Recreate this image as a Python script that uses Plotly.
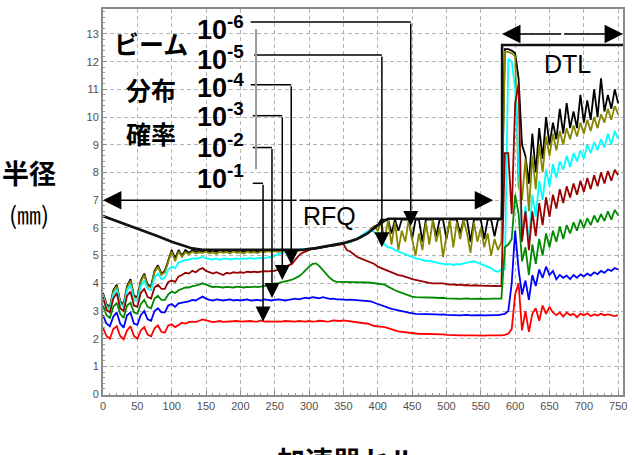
import plotly.graph_objects as go

# ---------------- data ----------------
cells = list(range(0, 751, 5))

p1e1 = [2.40, 2.10, 2.00, 2.35, 2.45, 2.10, 1.98, 2.30, 2.45, 2.10,
        2.00, 2.30, 2.42, 2.15, 2.08, 2.38, 2.48, 2.25, 2.22, 2.48,
        2.52, 2.42, 2.50, 2.58, 2.55, 2.60, 2.62, 2.60, 2.65, 2.70,
        2.66, 2.62, 2.60, 2.62, 2.64, 2.61, 2.62, 2.63, 2.62, 2.64,
        2.62, 2.63, 2.62, 2.64, 2.62, 2.62, 2.66, 2.62, 2.63, 2.62,
        2.62, 2.63, 2.62, 2.64, 2.63, 2.62, 2.62, 2.64, 2.63, 2.62,
        2.64, 2.62, 2.63, 2.65, 2.64, 2.62, 2.63, 2.66, 2.65, 2.64,
        2.66, 2.64, 2.62, 2.60, 2.60, 2.58, 2.56, 2.55, 2.50, 2.46,
        2.45, 2.44, 2.42, 2.38, 2.33, 2.30, 2.27, 2.25, 2.23, 2.22,
        2.20, 2.19, 2.18, 2.18, 2.17, 2.18, 2.17, 2.16, 2.17, 2.16,
        2.14, 2.13, 2.12, 2.13, 2.12, 2.12, 2.11, 2.12, 2.12, 2.11,
        2.12, 2.11, 2.12, 2.12, 2.11, 2.12, 2.12, 2.14, 2.18, 2.35,
        3.60, 4.00, 2.30, 3.00, 2.25, 2.90, 3.10, 2.65, 3.20, 2.90,
        3.15, 2.95, 2.85, 2.95, 2.80, 2.95, 2.85, 2.90, 2.78, 2.90,
        2.85, 2.92, 2.82, 2.88, 2.84, 2.90, 2.85, 2.88, 2.84, 2.82,
        2.85]

p1e2 = [2.85, 2.55, 2.45, 2.80, 2.95, 2.55, 2.40, 2.85, 2.95, 2.55,
        2.50, 2.85, 3.00, 2.70, 2.65, 3.00, 3.10, 2.95, 2.95, 3.20,
        3.25, 3.15, 3.28, 3.30, 3.32, 3.35, 3.40, 3.38, 3.45, 3.52,
        3.45, 3.40, 3.38, 3.42, 3.40, 3.38, 3.40, 3.42, 3.38, 3.40,
        3.38, 3.40, 3.42, 3.38, 3.40, 3.40, 3.38, 3.42, 3.40, 3.38,
        3.40, 3.42, 3.40, 3.38, 3.40, 3.42, 3.45, 3.42, 3.44, 3.48,
        3.46, 3.50, 3.48, 3.46, 3.50, 3.47, 3.44, 3.45, 3.42, 3.42,
        3.40, 3.40, 3.41, 3.40, 3.40, 3.38, 3.37, 3.36, 3.35, 3.30,
        3.25, 3.20, 3.15, 3.12, 3.08, 3.05, 3.02, 3.00, 2.98, 2.95,
        2.92, 2.90, 2.90, 2.89, 2.90, 2.88, 2.90, 2.88, 2.87, 2.88,
        2.86, 2.85, 2.86, 2.85, 2.84, 2.85, 2.86, 2.84, 2.85, 2.84,
        2.85, 2.84, 2.85, 2.86, 2.85, 2.85, 2.88, 2.90, 3.00, 4.00,
        5.90, 4.50, 3.60, 4.10, 3.40, 4.30, 3.90, 4.50, 4.20, 4.60,
        4.30, 4.45, 4.15, 4.30, 4.20, 4.28, 4.15, 4.30, 4.20, 4.32,
        4.25, 4.35, 4.28, 4.40, 4.33, 4.45, 4.38, 4.50, 4.45, 4.55,
        4.50]

p1e3 = [3.20, 2.85, 2.75, 3.15, 3.30, 2.90, 2.75, 3.20, 3.30, 2.95,
        2.90, 3.25, 3.40, 3.15, 3.10, 3.45, 3.55, 3.40, 3.40, 3.60,
        3.70, 3.65, 3.75, 3.80, 3.85, 3.85, 3.90, 3.92, 3.95, 4.00,
        3.95, 3.90, 3.86, 3.88, 3.86, 3.85, 3.87, 3.86, 3.85, 3.88,
        3.86, 3.85, 3.87, 3.86, 3.88, 3.86, 3.88, 3.90, 3.92, 3.95,
        4.00, 4.00, 4.04, 4.08, 4.10, 4.13, 4.18, 4.25, 4.35, 4.48,
        4.60, 4.70, 4.72, 4.62, 4.48, 4.33, 4.20, 4.10, 4.05, 4.05,
        4.05, 4.04, 4.05, 4.04, 4.05, 4.04, 4.03, 4.03, 4.02, 4.00,
        4.00, 3.98, 3.95, 3.88, 3.80, 3.75, 3.70, 3.65, 3.60, 3.55,
        3.52, 3.50, 3.50, 3.49, 3.50, 3.48, 3.49, 3.48, 3.47, 3.48,
        3.46, 3.45, 3.46, 3.45, 3.44, 3.45, 3.46, 3.44, 3.45, 3.44,
        3.45, 3.44, 3.45, 3.46, 3.45, 3.45, 3.45, 5.30, 5.40, 5.60,
        7.20, 6.50, 4.80, 5.30, 4.30, 5.40, 4.70, 5.60, 5.00, 5.80,
        5.30, 5.90, 5.50, 6.05, 5.60, 6.10, 5.80, 6.20, 5.90, 6.30,
        6.00, 6.35, 6.10, 6.45, 6.20, 6.50, 6.25, 6.60, 6.30, 6.65,
        6.45]

p1e4 = [3.50, 3.05, 2.95, 3.45, 3.65, 3.10, 3.00, 3.55, 3.70, 3.20,
        3.15, 3.65, 3.80, 3.50, 3.45, 3.85, 3.95, 3.80, 3.80, 4.05,
        4.10, 4.05, 4.25, 4.30, 4.38, 4.35, 4.45, 4.40, 4.50, 4.55,
        4.45, 4.40, 4.35, 4.40, 4.35, 4.30, 4.38, 4.35, 4.40, 4.38,
        4.40, 4.38, 4.42, 4.40, 4.42, 4.40, 4.42, 4.44, 4.43, 4.45,
        4.45, 4.50, 4.55, 4.60, 4.65, 4.70, 4.85, 5.00, 5.10, 5.15,
        5.20, 5.25, 5.25, 5.28, 5.30, 5.32, 5.35, 5.35, 5.38, 5.40,
        5.42, 5.20, 5.15, 5.05, 4.95, 4.90, 4.85, 4.80, 4.75, 4.70,
        4.60, 4.55, 4.50, 4.45, 4.40, 4.35, 4.30, 4.28, 4.25, 4.20,
        4.15, 4.12, 4.10, 4.08, 4.05, 4.02, 4.00, 4.00, 3.98, 4.00,
        3.97, 3.95, 3.96, 3.94, 3.95, 3.93, 3.94, 3.92, 3.93, 3.92,
        3.92, 3.91, 3.92, 3.90, 3.91, 3.90, 3.90, 8.70, 8.70, 6.50,
        10.50, 11.20, 5.50, 6.60, 5.20, 6.60, 5.70, 6.90, 6.10, 7.10,
        6.40, 7.20, 6.70, 7.40, 6.90, 7.50, 7.10, 7.60, 7.20, 7.70,
        7.30, 7.80, 7.40, 7.90, 7.50, 8.00, 7.60, 8.05, 7.70, 8.10,
        7.90]

p1e5 = [3.55, 3.15, 3.05, 3.60, 3.80, 3.25, 3.15, 3.75, 3.95, 3.40,
        3.35, 3.90, 4.10, 3.80, 3.75, 4.20, 4.35, 4.15, 4.20, 4.50,
        4.60, 4.55, 4.75, 4.80, 4.85, 4.85, 4.90, 4.88, 4.92, 4.95,
        4.90, 4.88, 4.86, 4.90, 4.85, 4.88, 4.90, 4.86, 4.88, 4.90,
        4.87, 4.90, 4.88, 4.92, 4.88, 4.90, 4.92, 4.90, 4.93, 4.95,
        5.00, 5.05, 5.10, 5.12, 5.15, 5.18, 5.20, 5.22, 5.22, 5.23,
        5.25, 5.26, 5.28, 5.30, 5.32, 5.33, 5.35, 5.37, 5.39, 5.40,
        5.42, 5.45, 5.50, 5.55, 5.62, 5.70, 5.80, 5.88, 5.92, 5.85,
        5.70, 5.55, 5.40, 5.30, 5.28, 5.20, 5.15, 5.10, 5.05, 5.00,
        4.95, 4.90, 4.88, 4.85, 4.80, 4.82, 4.78, 4.75, 4.72, 4.70,
        4.68, 4.70, 4.65, 4.70, 4.68, 4.72, 4.75, 4.78, 4.80, 4.75,
        4.70, 4.65, 4.60, 4.55, 4.45, 4.42, 4.50, 4.50, 12.10, 12.00,
        11.00, 8.00, 5.60, 6.80, 5.50, 7.20, 6.40, 7.70, 7.00, 8.10,
        7.50, 8.30, 7.80, 8.40, 8.10, 8.60, 8.20, 8.70, 8.40, 8.80,
        8.50, 9.00, 8.70, 9.10, 8.80, 9.20, 8.90, 9.40, 9.00, 9.50,
        9.20]

p1e6 = [3.60, 3.20, 3.10, 3.70, 3.90, 3.30, 3.20, 3.85, 4.10, 3.50,
        3.45, 4.05, 4.30, 3.90, 3.85, 4.40, 4.60, 4.30, 4.40, 4.80,
        5.15, 4.80, 5.15, 4.95, 5.12, 5.05, 5.15, 5.08, 5.12, 5.10,
        5.14, 5.08, 5.12, 5.06, 5.14, 5.10, 5.13, 5.08, 5.15, 5.10,
        5.12, 5.08, 5.15, 5.10, 5.13, 5.09, 5.15, 5.12, 5.16, 5.14,
        5.16, 5.13, 5.17, 5.15, 5.18, 5.17, 5.19, 5.18, 5.20, 5.19,
        5.22, 5.24, 5.26, 5.28, 5.30, 5.32, 5.34, 5.36, 5.39, 5.41,
        5.42, 5.46, 5.49, 5.54, 5.59, 5.66, 5.74, 5.84, 5.94, 6.05,
        5.90, 6.20, 5.60, 6.28, 5.40, 6.20, 5.20, 5.90, 5.50, 6.28,
        5.60, 5.00, 5.80, 5.20, 6.20, 5.40, 6.28, 5.50, 6.00, 4.95,
        5.70, 6.28, 5.30, 6.20, 5.60, 6.28, 5.80, 5.10, 6.20, 5.50,
        6.00, 5.30, 5.80, 5.00, 5.60, 5.20, 5.50, 12.35, 12.35, 12.30,
        12.20, 7.50, 7.00, 8.50, 6.60, 8.60, 7.40, 9.00, 8.00, 9.30,
        8.60, 9.40, 8.80, 9.50, 9.00, 9.60, 9.20, 9.70, 9.30, 9.80,
        9.40, 9.90, 9.50, 10.00, 9.60, 10.10, 9.80, 10.30, 9.90, 10.40,
        10.10]

p_max = [3.65, 3.25, 3.15, 3.75, 3.95, 3.35, 3.25, 3.90, 4.15, 3.55,
         3.50, 4.10, 4.35, 3.95, 3.90, 4.45, 4.65, 4.35, 4.45, 4.85,
         5.20, 4.90, 5.20, 5.00, 5.20, 5.10, 5.20, 5.15, 5.18, 5.15,
         5.18, 5.15, 5.18, 5.14, 5.19, 5.16, 5.18, 5.15, 5.19, 5.16,
         5.18, 5.15, 5.19, 5.16, 5.18, 5.15, 5.19, 5.17, 5.19, 5.18,
         5.19, 5.17, 5.19, 5.18, 5.19, 5.19, 5.20, 5.19, 5.21, 5.20,
         5.23, 5.25, 5.27, 5.29, 5.31, 5.33, 5.35, 5.37, 5.40, 5.42,
         5.43, 5.47, 5.50, 5.55, 5.60, 5.67, 5.75, 5.85, 5.95, 6.06,
         6.10, 6.30, 6.30, 6.30, 5.80, 6.30, 5.90, 6.30, 6.30, 6.30,
         5.60, 6.30, 6.30, 5.50, 6.30, 6.30, 6.30, 5.70, 6.30, 6.30,
         5.60, 6.30, 6.30, 6.30, 5.80, 6.30, 6.30, 5.50, 6.30, 6.30,
         6.30, 5.60, 6.30, 6.30, 5.70, 6.30, 6.30, 12.45, 12.45, 12.40,
         12.30, 11.40, 9.00, 8.60, 7.60, 9.40, 8.00, 9.60, 8.50, 10.00,
         9.00, 9.80, 9.20, 10.30, 9.40, 10.50, 9.60, 10.20, 9.60, 10.80,
         9.80, 10.60, 9.90, 11.00, 10.00, 11.40, 10.20, 10.80, 10.30, 11.00,
         10.50]

ap_cell = [0, 20, 40, 60, 80, 100, 115, 130, 145, 290, 310, 330, 350, 370,
           385, 400, 415, 581, 581, 760]
ap_r = [6.43, 6.25, 6.08, 5.88, 5.70, 5.50, 5.37, 5.26, 5.21, 5.21, 5.27,
        5.35, 5.45, 5.60, 5.80, 6.10, 6.33, 6.33, 12.60, 12.60]

x_ticks = list(range(0, 751, 50))
y_ticks = list(range(0, 14))

prob_labels = ["10<sup>-1</sup>", "10<sup>-2</sup>", "10<sup>-3</sup>",
               "10<sup>-4</sup>", "10<sup>-5</sup>", "10<sup>-6</sup>"]
# pointer targets (cell) and value read on the curve
ptr_cell = [233, 246, 261, 274, 406, 448]
ptr_val = [2.62, 3.47, 4.12, 4.68, 5.30, 6.07]

for s in (p1e1, p1e2, p1e3, p1e4, p1e5, p1e6, p_max):
    assert len(s) == len(cells)

# ---------------- figure ----------------
fig = go.Figure()
traces = [(p_max, "#000000"), (p1e6, "#868600"), (p1e5, "#00ffff"),
          (p1e4, "#990000"), (p1e3, "#008a00"), (p1e2, "#0000ff"),
          (p1e1, "#ff0000")]
for vals, col in traces:
    fig.add_trace(go.Scatter(x=cells, y=vals, mode="lines",
                             line=dict(color=col, width=1.8),
                             hoverinfo="skip"))
fig.add_trace(go.Scatter(x=ap_cell, y=ap_r, mode="lines",
                         line=dict(color="#111111", width=2.6),
                         hoverinfo="skip"))

tickfont = dict(family="Liberation Sans, Arial", size=11, color="#505050")
axis_common = dict(showgrid=True, gridcolor="#b4b4b4", gridwidth=1,
                   griddash="4px,3px", zeroline=False, showline=True,
                   linecolor="#8a8a8a", linewidth=2, mirror=True,
                   ticks="inside", ticklen=4, tickcolor="#8a8a8a",
                   tickfont=tickfont)

fig.update_layout(
    width=634, height=455,
    margin=dict(l=103, r=11, t=7, b=60),
    paper_bgcolor="white", plot_bgcolor="white",
    showlegend=False,
    xaxis=dict(range=[0, 757], tickmode="array", tickvals=x_ticks,
               minor=dict(dtick=10, ticklen=2, tickcolor="#999999",
                          ticks="inside", showgrid=False),
               **axis_common),
    yaxis=dict(range=[-0.03, 13.9], tickmode="array", tickvals=y_ticks,
               minor=dict(dtick=0.2, ticklen=2, tickcolor="#999999",
                          ticks="inside", showgrid=False),
               **axis_common),
)

# ---------------- annotations ----------------
ann = []
shapes = []
label_y = [7.82, 8.97, 10.09, 11.13, 12.14, 13.21]
h_start = [218, 218, 218, 215, 220, 215]
corner_y = [7.61, 8.90, 10.05, 11.17, 12.24, 13.43]
for i, txt in enumerate(prob_labels):
    ann.append(dict(x=134, y=label_y[i], xref="x", yref="y", text="<b>" + txt + "</b>",
                    showarrow=False, xanchor="left", yanchor="middle",
                    font=dict(family="Liberation Sans, Arial", size=27, color="black")))
    shapes.append(dict(type="line", xref="x", yref="y", x0=h_start[i], x1=ptr_cell[i],
                       y0=corner_y[i], y1=corner_y[i],
                       line=dict(color="black", width=1.5)))
    ann.append(dict(x=ptr_cell[i], y=ptr_val[i], ax=ptr_cell[i], ay=corner_y[i],
                    xref="x", yref="y", axref="x", ayref="y", text="",
                    showarrow=True, arrowhead=2, arrowsize=2, arrowwidth=1.5,
                    arrowcolor="black", standoff=0))

shapes.append(dict(type="line", xref="x", yref="y", x0=222.8, x1=222.8, y0=8.11, y1=13.18,
                   line=dict(color="#999999", width=2)))

# RFQ / DTL double arrows
for tip_x, tail_x, yy in [(0, 284, 7.0), (568, 284, 7.0), (581, 669, 13.0), (757, 669, 13.0)]:
    ann.append(dict(x=tip_x, y=yy, ax=tail_x, ay=yy, xref="x", yref="y", axref="x", ayref="y",
                    text="", showarrow=True, arrowhead=2, arrowsize=2.3, arrowwidth=1.6,
                    arrowcolor="black", standoff=0))

ann.append(dict(x=330, y=6.43, xref="x", yref="y", text="RFQ", showarrow=False,
                font=dict(family="Liberation Sans, Arial", size=25, color="black")))
ann.append(dict(x=676, y=11.92, xref="x", yref="y", text="DTL", showarrow=False,
                font=dict(family="Liberation Sans, Arial", size=25, color="black")))

cjk = "Noto Sans CJK JP"
for txt, py in [("ビーム", 0.912), ("分布", 0.794), ("確率", 0.680)]:
    ann.append(dict(x=0.092, y=py, xref="paper", yref="paper", text="<b>" + txt + "</b>",
                    showarrow=False, xanchor="center", yanchor="middle",
                    font=dict(family=cjk, size=25, color="black")))

ann.append(dict(x=-0.142, y=0.577, xref="paper", yref="paper", text="<b>半径</b>",
                showarrow=False, xanchor="center", yanchor="middle",
                font=dict(family=cjk, size=27, color="black")))
ann.append(dict(x=-0.142, y=0.469, xref="paper", yref="paper", text="(㎜)",
                showarrow=False, xanchor="center", yanchor="middle",
                font=dict(family=cjk, size=24, color="black")))
ann.append(dict(x=0.469, y=-0.112, xref="paper", yref="paper", text="<b>加速器セル</b>",
                showarrow=False, xanchor="center", yanchor="top",
                font=dict(family=cjk, size=28, color="black")))

fig.update_layout(annotations=ann, shapes=shapes)
fig.write_html("out.html")
